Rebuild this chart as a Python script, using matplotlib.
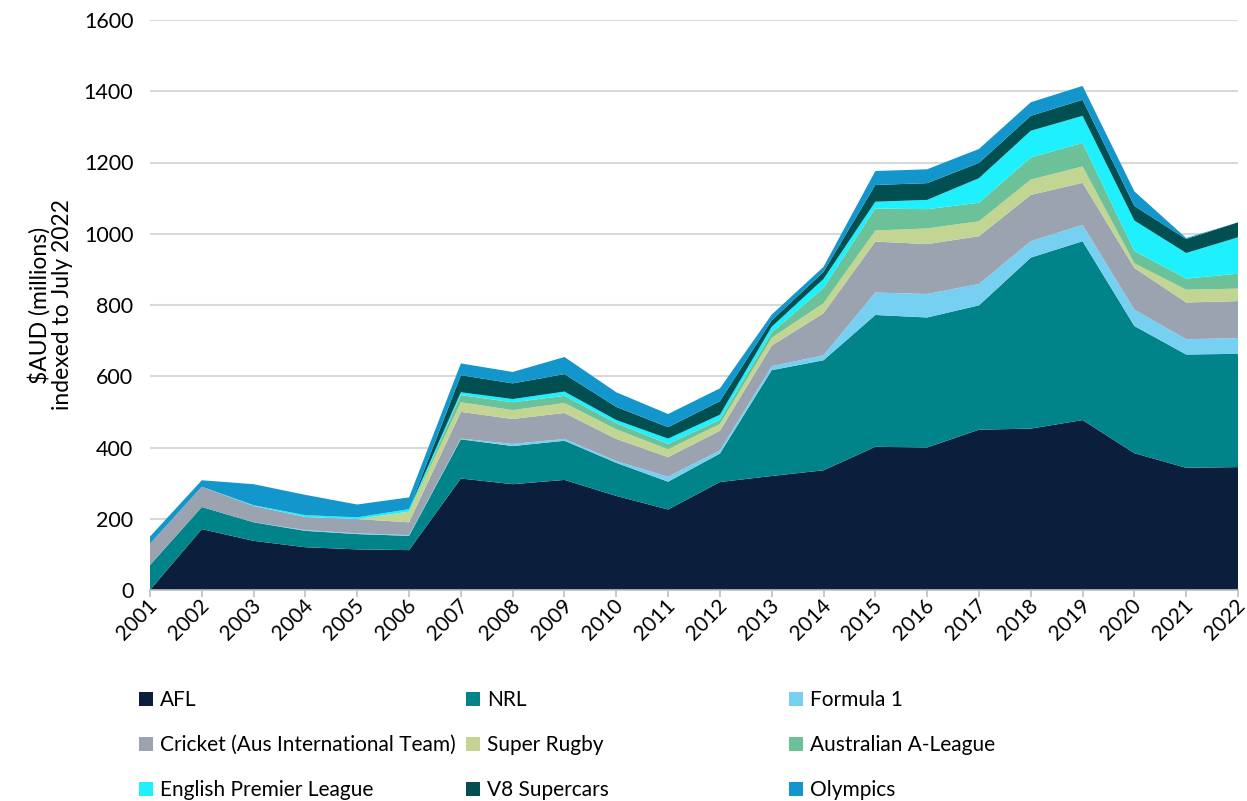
import matplotlib
matplotlib.use("Agg")
import matplotlib.pyplot as plt
import matplotlib.transforms as mtransforms
from matplotlib.patches import Patch

years = list(range(2001, 2023))

afl      = [0, 171, 138, 120, 114, 112, 313, 297, 309, 264, 226, 303, 320, 336, 402, 400, 450, 453, 477, 384, 343, 345]
nrl      = [70, 62, 52, 46, 43, 40, 110, 107, 110, 93, 78, 80, 297, 309, 370, 365, 349, 480, 502, 357, 318, 318]
formula1 = [0, 0, 0, 2, 2, 2, 2, 6, 5, 5, 14, 9, 11, 14, 63, 66, 60, 46, 46, 46, 43, 44]
cricket  = [60, 57, 46, 37, 40, 36, 75, 70, 73, 62, 55, 55, 58, 118, 143, 140, 134, 130, 118, 117, 103, 104]
super_rugby = [0, 0, 0, 0, 0, 30, 27, 25, 28, 27, 22, 19, 22, 28, 31, 44, 42, 43, 46, 13, 36, 35]
a_league = [0, 0, 0, 0, 0, 0, 20, 22, 20, 17, 15, 12, 15, 43, 62, 54, 52, 62, 66, 35, 31, 42]
epl      = [0, 0, 2, 5, 5, 7, 8, 9, 12, 9, 15, 14, 16, 25, 19, 26, 69, 75, 76, 85, 72, 102]
v8       = [0, 0, 0, 0, 0, 0, 48, 44, 49, 37, 32, 38, 18, 20, 47, 47, 43, 42, 45, 41, 39, 42]
olympics = [20, 18, 59, 57, 36, 33, 33, 32, 48, 41, 37, 36, 16, 14, 39, 39, 39, 38, 39, 41, 3, 0]

series_names = ["AFL", "NRL", "Formula 1", "Cricket (Aus International Team)", "Super Rugby",
                "Australian A-League", "English Premier League", "V8 Supercars", "Olympics"]
series_values = [afl, nrl, formula1, cricket, super_rugby, a_league, epl, v8, olympics]
colors = ["#0b1e3c", "#00848a", "#75d0f2", "#9ba3b0", "#c3d592",
          "#6cc199", "#1ff0fe", "#024f52", "#1396cb"]

y_ticks = [0, 200, 400, 600, 800, 1000, 1200, 1400, 1600]
y_label = "$AUD (millions)\nindexed to July 2022"

FS = 15
plt.rcParams['font.family'] = ['Lato', 'DejaVu Sans']
fig = plt.figure(figsize=(12.47, 8.01), dpi=100)
ax = fig.add_axes([150/1247, 1-590/801, (1238-150)/1247, (590-20)/801])

ax.stackplot(years, *series_values, colors=colors, labels=series_names, linewidth=0)

ax.set_xlim(2001, 2022)
ax.set_ylim(0, 1600)
ax.set_yticks(y_ticks)
ax.set_yticklabels([str(t) for t in y_ticks])
ax.set_xticks(years)
ax.set_xticklabels([str(y) for y in years])
ax.grid(axis='y', color='#d9d9d9', linewidth=1.5, zorder=0)
ax.set_axisbelow(True)
for s in ['left', 'right', 'top']:
    ax.spines[s].set_visible(False)
ax.spines['bottom'].set_color('#bfbfbf')
ax.spines['bottom'].set_linewidth(1.2)
ax.tick_params(axis='y', length=0, pad=12, labelsize=15.5, colors='black')
ax.tick_params(axis='x', length=5, width=1.2, color='#bfbfbf', pad=4, labelsize=FS)

offset = mtransforms.ScaledTranslation(3/72, 0, fig.dpi_scale_trans)
for lbl in ax.get_xticklabels():
    lbl.set_rotation(45)
    lbl.set_ha('right')
    lbl.set_va('center')
    lbl.set_rotation_mode('anchor')
    lbl.set_transform(lbl.get_transform() + offset)

ax.set_ylabel(y_label, fontsize=16.5, labelpad=8, linespacing=1.05)

handles = [Patch(facecolor=c, edgecolor='none') for c in colors]
col_x = [139, 466, 789]
for col in range(3):
    idx = [col, col + 3, col + 6]
    leg = fig.legend([handles[i] for i in idx], [series_names[i] for i in idx],
                     ncol=1, loc='upper left', bbox_to_anchor=(col_x[col]/1247, 1-690/801),
                     frameon=False, fontsize=FS, handlelength=0.65, handleheight=0.65,
                     handletextpad=0.35, labelspacing=1.2, borderpad=0, borderaxespad=0)

fig.savefig("out.png", dpi=100)
